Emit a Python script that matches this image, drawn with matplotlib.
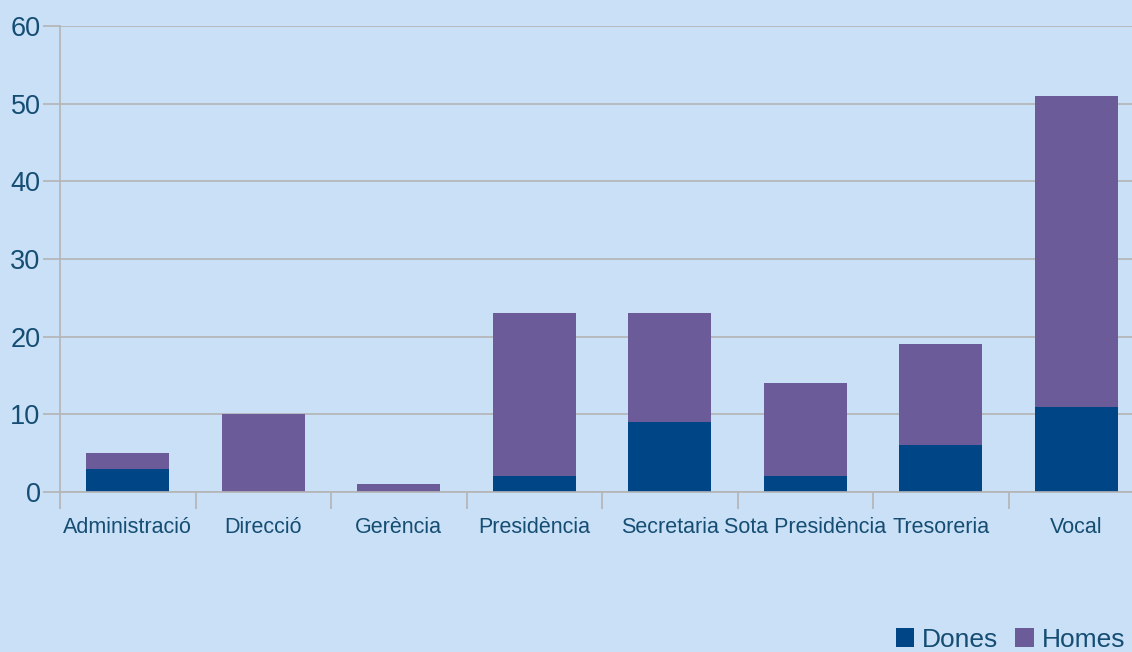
import matplotlib
matplotlib.use("Agg")
import matplotlib.pyplot as plt
import numpy as np

categories = ["Administració", "Direcció", "Gerència", "Presidència", "Secretaria",
              "Sota Presidència", "Tresoreria", "Vocal"]
dones = [3, 0, 0, 2, 9, 2, 6, 11]
homes = [2, 10, 1, 21, 14, 12, 13, 40]
yticks = [0, 10, 20, 30, 40, 50, 60]

bg = "#C9E0F6"
c_dones = "#004586"
c_homes = "#6B5B99"
txt = "#154D73"
grid = "#B4B4B4"

plt.rcParams['font.family'] = ['Liberation Sans', 'DejaVu Sans']

fig = plt.figure(figsize=(11.32, 6.52), dpi=100, facecolor=bg)
ax = fig.add_axes([60/1132, 160/652, 1084/1132, 466/652], facecolor=bg)

x = np.arange(len(categories))
w = 0.615
ax.bar(x, dones, w, color=c_dones, label="Dones", zorder=3)
ax.bar(x, homes, w, bottom=dones, color=c_homes, label="Homes", zorder=3)

ax.set_xlim(-0.5, len(categories) - 0.5)
ax.set_ylim(0, 60)
ax.set_yticks(yticks)
ax.set_yticklabels([str(v) for v in yticks], fontsize=19.5, color=txt)
ax.tick_params(axis='y', length=12, color=grid, width=1.2, pad=2)
ax.yaxis.grid(True, color=grid, linewidth=1.2, zorder=0)

ax.set_xticks(np.arange(len(categories) + 1) - 0.5)
ax.set_xticklabels([])
ax.set_xticks(x, minor=True)
ax.set_xticklabels(categories, minor=True, fontsize=15.5, color=txt)
ax.tick_params(axis='x', which='major', length=12, color=grid, width=1.2)
ax.tick_params(axis='x', which='minor', length=0, pad=18)

for s in ['top', 'right']:
    ax.spines[s].set_visible(False)
for s in ['left', 'bottom']:
    ax.spines[s].set_color(grid)
    ax.spines[s].set_linewidth(1.2)
    ax.spines[s].set_zorder(4)

leg = fig.legend(loc='lower right', bbox_to_anchor=(1.008, -0.024), ncol=2, frameon=False,
                 fontsize=19, handlelength=0.7, handleheight=0.7, handletextpad=0.3,
                 columnspacing=0.65, borderaxespad=0.2)
for t in leg.get_texts():
    t.set_color(txt)

fig.savefig("out.png", dpi=100, facecolor=bg)
